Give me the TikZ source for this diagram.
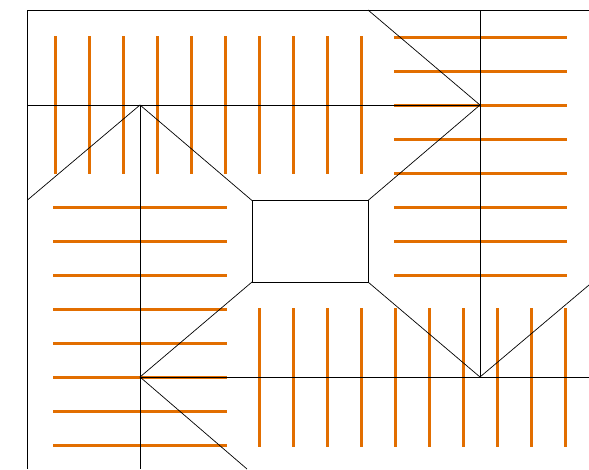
\documentclass[tikz,border=0pt]{standalone}
\definecolor{hatch}{RGB}{226,110,0}
\tikzset{
  wall/.style={draw=black, line width=0.7pt},
  hatchline/.style={draw=hatch, line width=3pt},
}
\begin{document}
\begin{tikzpicture}[x=1pt,y=-1pt]
\useasboundingbox (0,0) rectangle (589,469);
% orange hatching
\foreach \x in {55,89,...,361} \draw[hatchline] (\x,36) -- (\x,174);
\foreach \y in {37,71,...,275} \draw[hatchline] (394,\y) -- (567,\y);
\foreach \y in {207,241,...,445} \draw[hatchline] (53,\y) -- (227,\y);
\foreach \x in {259,293,...,565} \draw[hatchline] (\x,308) -- (\x,447);
% frame and grid lines
\coordinate (tl) at (27.5,10);
\coordinate (tr) at (589,10);
\coordinate (bl) at (27.5,469);
\coordinate (A) at (140,105);
\coordinate (B) at (480,105);
\coordinate (C) at (140,377);
\coordinate (D) at (480,377);
\draw[wall] (tr) -- (tl) -- (bl);
\draw[wall] (27.5,105) -- (B);
\draw[wall] (480,10) -- (D);
\draw[wall] (A) -- (140,469);
\draw[wall] (C) -- (589,377);
% central room
\coordinate (r1) at (252,200.5);
\coordinate (r2) at (368,200.5);
\coordinate (r3) at (368,282);
\coordinate (r4) at (252,282);
\draw[wall] (r1) -- (r2) -- (r3) -- (r4) -- cycle;
% diagonals
\draw[wall] (368,10) -- (B) -- (r2);
\draw[wall] (27.5,200) -- (A) -- (r1);
\draw[wall] (r4) -- (C) -- (247,469);
\draw[wall] (r3) -- (D) -- (589,285);
\end{tikzpicture}
\end{document}
